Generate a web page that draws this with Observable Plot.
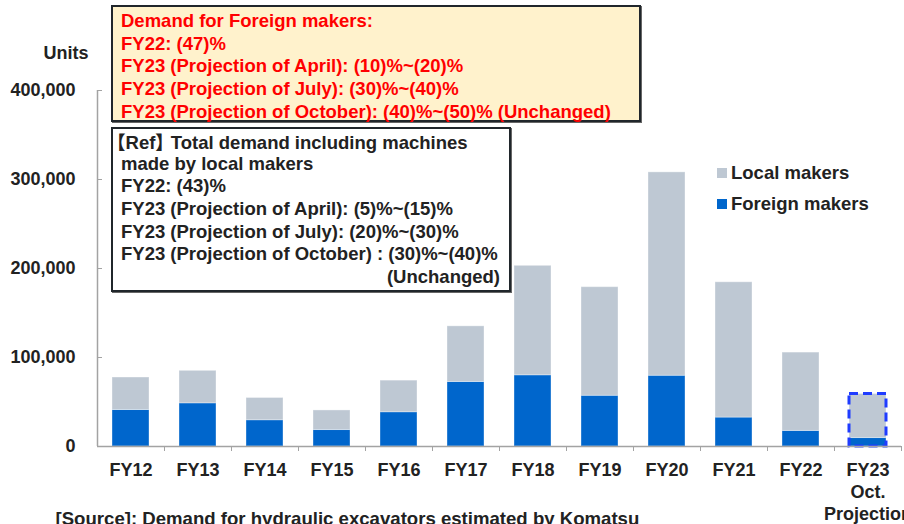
<!DOCTYPE html>
<html><head><meta charset="utf-8">
<script src="https://cdn.jsdelivr.net/npm/d3@7"></script>
<script src="https://cdn.jsdelivr.net/npm/@observablehq/plot@0.6"></script>
<style>
body{margin:0;background:#fff;}
#wrap{position:relative;width:904px;height:524px;overflow:hidden;font-family:"Liberation Sans",Arial,"Noto Sans CJK JP",sans-serif;font-weight:bold;}
#wrap svg{position:absolute;left:0;top:0;}
.box{position:absolute;box-sizing:border-box;border:2px solid #20262b;font-size:18.5px;line-height:22.7px;padding:1px 0 0 8px;white-space:nowrap;box-shadow:1px 1px 0 #666;}
.box div{height:22.7px;}
#box1{left:111px;top:5px;width:530px;height:117px;background:#fff2cc;color:#ff0000;padding-top:3px;}
#box2{left:111px;top:127px;width:400px;height:165px;background:#fff;color:#222;}
#box2 .r{text-align:right;padding-right:9px;}
.lb{font-family:"Noto Sans CJK JP",sans-serif;margin-left:-14px;}
.rb{font-family:"Noto Sans CJK JP",sans-serif;letter-spacing:-3px;}
.legend{position:absolute;left:717px;font-size:18.5px;color:#222;display:flex;align-items:center;height:22px;}
.sw{width:10px;height:10px;margin-right:4px;}
</style>
</head><body>
<div id="wrap"></div>
<script>
// ---- data ----
const categories = ["FY12","FY13","FY14","FY15","FY16","FY17","FY18","FY19","FY20","FY21","FY22","FY23"];
const foreignMakers = [41000, 48500, 29500, 18500, 38500, 72500, 80000, 57000, 79500, 32500, 17500, 9500];
const localMakers   = [36500, 36500, 25000, 22000, 35500, 62500, 123000, 122000, 228500, 152000, 88000, 49500];
const xTickLabels = ["FY12","FY13","FY14","FY15","FY16","FY17","FY18","FY19","FY20","FY21","FY22","FY23\nOct.\nProjection"];
const yTicks = [0, 100000, 200000, 300000, 400000];
const seriesNames = ["Local makers", "Foreign makers"];
const seriesColors = ["#bec8d3", "#0066cc"];
const projectionCategories = ["FY23"];
const yLabel = "Units";
const sourceNote = "[Source]: Demand for hydraulic excavators estimated by Komatsu";
const box1Lines = ["Demand for Foreign makers:", "FY22: (47)%", "FY23 (Projection of April): (10)%~(20)%", "FY23 (Projection of July): (30)%~(40)%", "FY23 (Projection of October): (40)%~(50)% (Unchanged)"];
const box2Head = ["【", "Ref", "】", "Total demand including machines"];
const box2Lines = ["made by local makers", "FY22: (43)%", "FY23 (Projection of April): (5)%~(15)%", "FY23 (Projection of July): (20)%~(30)%", "FY23 (Projection of October) : (30)%~(40)%"];
const box2Last = "(Unchanged)";

// ---- layout ----
const W = 904, H = 524, mL = 97, mR = 3, mT = 90, mB = 78;
const band = (W - mL - mR) / categories.length;
const barInset = 15;
const axisColor = "#a3a3a3";

const rows = [];
categories.forEach((c, i) => {
  rows.push({cat: c, maker: "Foreign makers", value: foreignMakers[i]});
  rows.push({cat: c, maker: "Local makers", value: localMakers[i]});
});
const proj = projectionCategories.map(c => {
  const i = categories.indexOf(c);
  return {cat: c, total: foreignMakers[i] + localMakers[i]};
});
const labelMap = new Map(categories.map((c, i) => [c, xTickLabels[i]]));

const chart = Plot.plot({
  width: W, height: H,
  marginLeft: mL, marginRight: mR, marginTop: mT, marginBottom: mB,
  style: {fontFamily: '"Liberation Sans", Arial, sans-serif', fontWeight: "bold", fontSize: "18px", color: "#222", background: "transparent", overflow: "visible"},
  x: {type: "band", domain: categories, padding: 0, axis: null},
  y: {domain: [0, 400000], axis: null},
  color: {domain: seriesNames, range: seriesColors},
  marks: [
    Plot.barY(rows, Plot.stackY({x: "cat", y: "value", fill: "maker", stroke: "white", strokeOpacity: 0.35, strokeWidth: 1, insetLeft: barInset, insetRight: barInset})),
    Plot.barY(proj, {x: "cat", y: "total", fill: "none", stroke: "#1f3cff", strokeWidth: 3, strokeDasharray: "9,5", insetLeft: barInset, insetRight: barInset}),
    Plot.ruleY([0], {stroke: axisColor, strokeWidth: 1.5}),
    Plot.ruleX([categories[0]], {y1: 0, y2: 400000, dx: -band / 2, stroke: axisColor, strokeWidth: 1.5}),
    Plot.axisY({ticks: yTicks, tickSize: 5, dx: 5, text: null, label: null, stroke: axisColor}),
    Plot.axisY({ticks: yTicks, tickSize: 0, tickPadding: 22, tickFormat: d3.format(","), label: null, fill: "#222"}),
    Plot.axisX({tickSize: 5, dx: band / 2, text: null, label: null, stroke: axisColor}),
    Plot.axisX({tickSize: 0, tickPadding: 14, tickFormat: d => labelMap.get(d), label: null, lineHeight: 1.22, fill: "#222"}),
    Plot.text([yLabel], {frameAnchor: "top-left", dx: -54, dy: -44, fill: "#222"}),
    Plot.text([sourceNote], {frameAnchor: "bottom-left", dx: -42, dy: 78, textAnchor: "start", fontSize: 18.6, fill: "#222"})
  ]
});

const wrap = document.getElementById("wrap");
wrap.appendChild(chart);

const b1 = document.createElement("div");
b1.className = "box"; b1.id = "box1";
box1Lines.forEach(t => { const d = document.createElement("div"); d.textContent = t; b1.appendChild(d); });
wrap.appendChild(b1);

const b2 = document.createElement("div");
b2.className = "box"; b2.id = "box2";
const head = document.createElement("div");
const cls = ["lb", "", "rb", ""];
box2Head.forEach((t, i) => { const s = document.createElement("span"); if (cls[i]) s.className = cls[i]; s.textContent = t; head.appendChild(s); });
b2.appendChild(head);
box2Lines.forEach(t => { const d = document.createElement("div"); d.textContent = t; b2.appendChild(d); });
const last = document.createElement("div"); last.className = "r"; last.textContent = box2Last; b2.appendChild(last);
wrap.appendChild(b2);

const legendTops = [162, 193];
seriesNames.forEach((n, i) => {
  const l = document.createElement("div");
  l.className = "legend";
  l.style.top = legendTops[i] + "px";
  const s = document.createElement("span"); s.className = "sw"; s.style.background = seriesColors[i];
  const t = document.createElement("span"); t.textContent = n;
  l.appendChild(s); l.appendChild(t);
  wrap.appendChild(l);
});
</script>
</body></html>
